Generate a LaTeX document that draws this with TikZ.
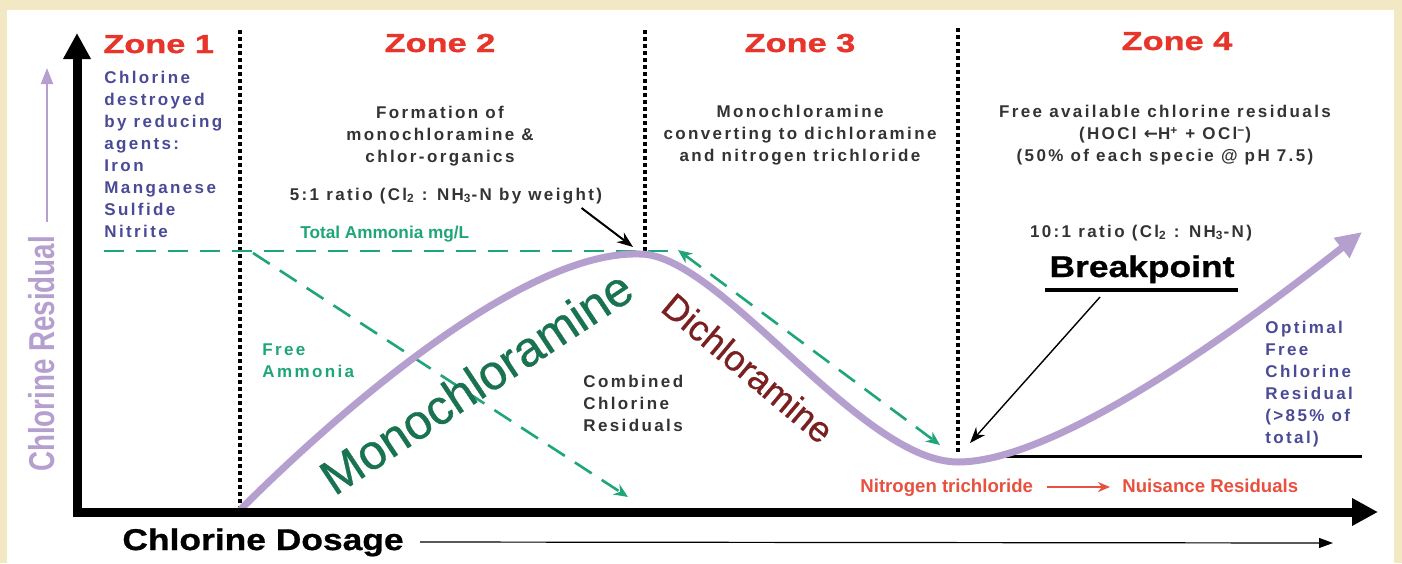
\documentclass[tikz,border=0pt]{standalone}
\usepackage{graphicx}
\usepackage{fontspec}
\setmainfont{Liberation Sans}
\newfontfamily\spc[LetterSpace=14]{Liberation Sans}
\newfontfamily\zonefont[FakeStretch=1.32,FakeBold=1.2]{Liberation Sans}
\newfontfamily\bigfont[FakeStretch=1.18,FakeBold=0.8]{Liberation Sans}
\newfontfamily\narrowfont[FakeStretch=0.77]{Liberation Sans}
\newfontfamily\curvefont[FakeBold=0.7]{Liberation Sans}
\newfontfamily\dejavu{DejaVu Sans}
\usetikzlibrary{arrows.meta}
\definecolor{beige}{HTML}{F2E8C3}
\definecolor{zonered}{HTML}{E8352B}
\definecolor{bluetxt}{HTML}{4A4A96}
\definecolor{darktxt}{HTML}{333333}
\definecolor{ammo}{HTML}{1FA57A}
\definecolor{lav}{HTML}{B59FCF}
\definecolor{monog}{HTML}{1A7350}
\definecolor{dichr}{HTML}{7A2020}
\definecolor{nuis}{HTML}{E8503F}
\begin{document}
\begin{tikzpicture}[x=0.5pt,y=-0.5pt,
  spaced/.style={font=\spc\bfseries\fontsize{8.5}{11}\selectfont,inner sep=0pt},
  plainbold/.style={font=\bfseries\fontsize{8.6}{11}\selectfont,inner sep=0pt},
  zonetitle/.style={font=\zonefont\bfseries\fontsize{13}{15}\selectfont,text=zonered,inner sep=0pt},
  dotline/.style={line width=2pt,dash pattern=on 1.8pt off 1.7pt},
  gdash/.style={draw=ammo,line width=1.3pt,dash pattern=on 10pt off 6pt},
  gtip/.style={-{Stealth[length=7pt,width=6pt]}},
  axis/.style={line width=4.5pt,-{Triangle[length=13pt,width=13pt]}},
  curve/.style={draw=lav,line width=3.5pt,-{Triangle[length=13pt,width=12pt]}},
  pointer/.style={draw=black,-{Stealth[length=8pt,width=6pt]}}
]
\fill[beige] (0,0) rectangle (1402,563);
\fill[white] (7,10) rectangle (1394,563);
\useasboundingbox (0,0) rectangle (1402,563);

% coordinates
\coordinate (c0) at (240,510);
\coordinate (peak) at (640,254);
\coordinate (cmin) at (958,462);
\coordinate (cend) at (1362,232);

% dotted zone separators
\coordinate (d1t) at (240,30); \coordinate (d1b) at (240,510);
\coordinate (d2t) at (645,30); \coordinate (d2b) at (645,252);
\coordinate (d3t) at (958,28); \coordinate (d3b) at (958,453);
\draw[dotline] (d1t) -- (d1b);
\draw[dotline] (d2t) -- (d2b);
\draw[dotline] (d3t) -- (d3b);

% green dashed lines
\coordinate (g0) at (104,251); \coordinate (g1) at (676,251);
\draw[gdash] (g0) -- (g1);
\coordinate (fa0) at (253,253); \coordinate (fa1) at (628,497);
\draw[gdash,gtip] (fa0) -- (fa1);
\coordinate (di0) at (678,250); \coordinate (di1) at (940,445);
\draw[gdash,{Stealth[length=7pt,width=6pt]}-{Stealth[length=7pt,width=6pt]}] (di0) -- (di1);

% total line
\coordinate (tl0) at (1005,456); \coordinate (tl1) at (1362,456);
\draw[line width=1.5pt] (tl0) -- (tl1);

% curve
\draw[curve] (c0) .. controls (330,420) and (520,250) .. (peak)
  .. controls (720,254) and (860,462) .. (cmin)
  .. controls (1060,462) and (1250,320) .. (cend);

% axes
\coordinate (o) at (77,517); \coordinate (ytop) at (77,33);
\coordinate (ox) at (73,512); \coordinate (xend) at (1378,512);
\draw[axis] (o) -- (ytop);
\draw[axis] (ox) -- (xend);

% zone titles
\node[zonetitle,anchor=base west] (z1) at (103,53) {Zone 1};
\node[zonetitle,anchor=base] (z2) at (440,52) {Zone 2};
\node[zonetitle,anchor=base] (z3) at (800,52) {Zone 3};
\node[zonetitle,anchor=base] (z4) at (1177,50) {Zone 4};

% zone texts
\node[spaced,text=bluetxt,align=left,anchor=north west] (t1) at (104,71)
  {Chlorine\\destroyed\\by reducing\\agents:\\Iron\\Manganese\\Sulfide\\Nitrite};
\node[spaced,text=darktxt,align=center,anchor=north] (t2) at (440,106)
  {Formation of\\monochloramine \&\\chlor-organics};
\node[spaced,text=darktxt,anchor=base] (r5) at (446,200)
  {5:1 ratio (Cl\textsubscript{2} : NH\textsubscript{3}-N by weight)};
\node[plainbold,text=ammo,anchor=base west] (tam) at (300,238) {Total Ammonia mg/L};
\node[spaced,text=darktxt,align=center,anchor=north] (t3) at (800,105)
  {Monochloramine\\converting to dichloramine\\and nitrogen trichloride};
\node[spaced,text=darktxt,align=center,anchor=north] (t4) at (1165,105)
  {Free available chlorine residuals\\(HOCl {\dejavu\bfseries ←}H\textsuperscript{+} + OCl\textsuperscript{−})\\(50\% of each specie @ pH 7.5)};
\node[spaced,text=darktxt,anchor=base] (r10) at (1141,237)
  {10:1 ratio (Cl\textsubscript{2} : NH\textsubscript{3}-N)};
\node[font=\bigfont\bfseries\fontsize{15}{17}\selectfont,inner sep=0pt,anchor=base] (bp) at (1142,277) {Breakpoint};
\coordinate (ul0) at (1045,290); \coordinate (ul1) at (1238,290);
\draw[line width=2pt] (ul0) -- (ul1);

\node[spaced,text=ammo,align=left,anchor=north west] (fam) at (262,343) {Free\\Ammonia};
\node[spaced,text=darktxt,align=left,anchor=north west] (ccr) at (583,375) {Combined\\Chlorine\\Residuals};
\node[spaced,text=bluetxt,align=left,anchor=north west] (opt) at (1265,321)
  {Optimal\\Free\\Chlorine\\Residual\\(>85\% of\\total)};

\node[font=\bfseries\fontsize{9.3}{11}\selectfont,text=nuis,inner sep=0pt,anchor=base west] (ntc) at (860,492) {Nitrogen trichloride};
\node[font=\bfseries\fontsize{9.3}{11}\selectfont,text=nuis,inner sep=0pt,anchor=base west] (nr) at (1122,492) {Nuisance Residuals};
\draw[nuis,line width=1pt,-{Stealth[length=6pt,width=5pt]}] ([xshift=7pt,yshift=2.5pt]ntc.base east) -- ([xshift=-6pt,yshift=2.5pt]nr.base west);

% curve labels
\node[font=\curvefont\fontsize{24.5}{26}\selectfont,text=monog,rotate=33.5,inner sep=0pt] (mono) at (476,382) {Monochloramine};
\node[font=\curvefont\fontsize{18}{20}\selectfont,text=dichr,rotate=-40,inner sep=0pt] (dich) at (748,368) {Dichloramine};

% pointer arrows
\coordinate (p5) at (633,247);
\draw[pointer,line width=1pt] ([xshift=-10.5pt,yshift=-2pt]r5.south east) -- (p5);
\coordinate (bpt) at (970,443);
\coordinate (bps) at (1100,297);
\draw[pointer,line width=0.7pt] (bps) -- (bpt);

% axis labels
\node[font=\bigfont\bfseries\fontsize{15}{17}\selectfont,inner sep=0pt,anchor=base west] (xl) at (122,550) {Chlorine Dosage};
\coordinate (xa1) at (1333,543);
\draw[line width=0.6pt,-{Triangle[length=7pt,width=5pt]}] ([xshift=8pt,yshift=4pt]xl.base east) -- (xa1);
\node[font=\narrowfont\bfseries\fontsize{18}{20}\selectfont,text=lav,rotate=90,inner sep=0pt] (yl) at (42,354) {Chlorine Residual};
\coordinate (la0) at (47,222);
\coordinate (la1) at (47,68);
\draw[lav,line width=1pt,-{Triangle[length=8pt,width=6pt]}] (la0) -- (la1);
\end{tikzpicture}
\end{document}
